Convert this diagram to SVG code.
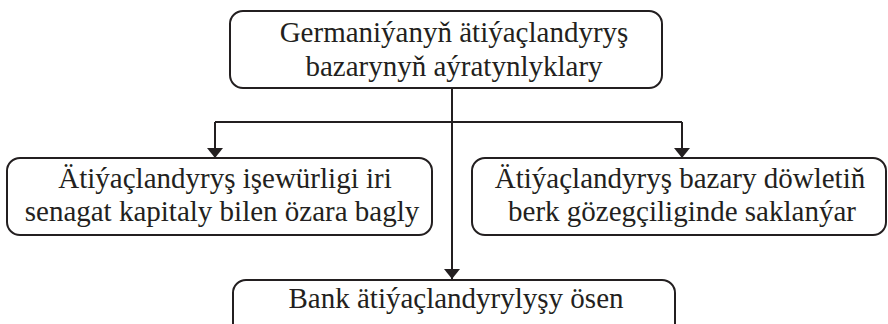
<svg xmlns="http://www.w3.org/2000/svg" width="888" height="324" viewBox="0 0 888 324">
<style>
.box{fill:#fff;stroke:#231f20;stroke-width:2}
.t{font-family:"Liberation Serif","Times New Roman",serif;font-size:29px;fill:#231f20;text-anchor:middle}
.c{fill:none;stroke:#231f20;stroke-width:2}
</style>
<defs>
<marker id="ah" viewBox="0 0 10 16" refX="10" refY="8" markerWidth="10" markerHeight="16" markerUnits="userSpaceOnUse" orient="auto">
<path d="M0,8 L0,0 L10,8 L0,16 Z" fill="#231f20"/>
</marker>
</defs>
<rect width="888" height="324" fill="#fff"/>
<g id="connectors">
<path class="c" d="M452,89 V279" marker-end="url(#ah)"/>
<path class="c" d="M215,122 H682"/>
<path class="c" d="M215,122 V158" marker-end="url(#ah)"/>
<path class="c" d="M682,122 V158" marker-end="url(#ah)"/>
</g>
<g id="top">
<rect class="box" x="230" y="11" width="432" height="77" rx="13"/>
<text class="t" x="454" y="42">Germaniýanyň ätiýaçlandyryş</text>
<text class="t" x="454" y="76">bazarynyň aýratynlyklary</text>
</g>
<g id="left">
<rect class="box" x="7" y="158" width="425" height="77" rx="13"/>
<text class="t" x="225" y="188">Ätiýaçlandyryş işewürligi iri</text>
<text class="t" x="222" y="221">senagat kapitaly bilen özara bagly</text>
</g>
<g id="right">
<rect class="box" x="472" y="158" width="414" height="77" rx="13"/>
<text class="t" x="680" y="188">Ätiýaçlandyryş bazary döwletiň</text>
<text class="t" x="682" y="221">berk gözegçiliginde saklanýar</text>
</g>
<g id="bottom">
<rect class="box" x="233" y="280" width="442" height="60" rx="13"/>
<text class="t" x="456" y="308">Bank ätiýaçlandyrylyşy ösen</text>
</g>
</svg>
